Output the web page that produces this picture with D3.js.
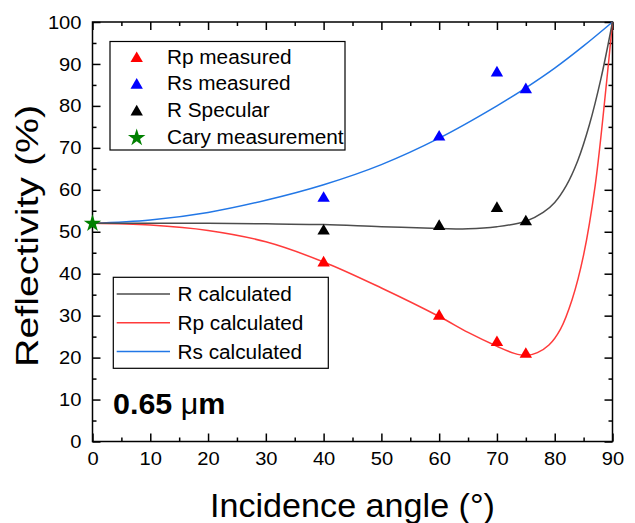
<!DOCTYPE html>
<html><head><meta charset="utf-8">
<script src="https://cdn.jsdelivr.net/npm/d3@7"></script>
<style>
html,body{margin:0;padding:0;background:#fff;}
svg text{font-family:Arial,"Liberation Sans",sans-serif;fill:#000;}
</style></head>
<body><svg id="c" width="635" height="523"></svg>
<script>
// ---- data ----
const measuredAngles = [40, 60, 70, 75];
const rpMeasured = [43.0, 30.3, 24.0, 21.2];
const rsMeasured = [58.4, 73.0, 88.3, 84.3];
const rSpecular = [50.6, 51.7, 56.0, 52.8];
const caryAngle = [0];
const caryValue = [52.2];

const rCalcAngles = [0, 10, 20, 30, 40, 50, 60, 65, 70, 75, 78, 80, 82, 84, 86, 88, 90];
const rCalc = [52.0, 52.0, 52.0, 51.9, 51.7, 51.2, 50.8, 50.7, 51.2, 52.5, 54.6, 57.0, 61.0, 67.0, 75.5, 86.5, 100];

const rpCalcAngles = [0, 10, 20, 30, 40, 50, 60, 65, 70, 73, 75, 77, 79, 81, 83, 85, 87, 89, 90];
const rpCalc = [52.0, 51.6, 50.3, 47.6, 42.8, 36.6, 29.8, 26.0, 22.7, 21.0, 20.5, 21.2, 23.0, 26.8, 33.8, 44.5, 61.0, 86.0, 100];

const rsCalcAngles = [0, 10, 20, 30, 40, 50, 60, 70, 75, 80, 85, 90];
const rsCalc = [52.0, 52.8, 54.6, 57.5, 61.2, 66.0, 72.3, 80.0, 84.3, 89.0, 94.3, 100];

const xMajor = [0, 10, 20, 30, 40, 50, 60, 70, 80, 90];
const xMinor = [5, 15, 25, 35, 45, 55, 65, 75, 85];
const yMajor = [0, 10, 20, 30, 40, 50, 60, 70, 80, 90, 100];
const yMinor = [5, 15, 25, 35, 45, 55, 65, 75, 85, 95];

// ---- drawing ----
const svg = d3.select("#c");
const x = d3.scaleLinear().domain([0, 90]).range([92.5, 612.5]);
const y = d3.scaleLinear().domain([0, 100]).range([441.5, 22]);

function stretch(sel, k) {
  sel.each(function () {
    const w = this.getComputedTextLength();
    d3.select(this).attr("textLength", w * k).attr("lengthAdjust", "spacingAndGlyphs");
  });
}

// axes
function addAxis(axis, tr) {
  const g = svg.append("g").attr("transform", tr).call(axis);
  g.select(".domain").remove();
  g.selectAll(".tick line").attr("stroke", "#000").attr("stroke-width", 1.5);
  return g;
}
const fs = 19;
addAxis(d3.axisBottom(x).tickValues(xMajor).tickSize(-8).tickPadding(10).tickFormat(d3.format("d")), `translate(0,${y(0)})`);
addAxis(d3.axisBottom(x).tickValues(xMinor).tickSize(-4).tickFormat(""), `translate(0,${y(0)})`);
addAxis(d3.axisTop(x).tickValues(xMajor).tickSize(-8).tickFormat(""), `translate(0,${y(100)})`);
addAxis(d3.axisTop(x).tickValues(xMinor).tickSize(-4).tickFormat(""), `translate(0,${y(100)})`);
addAxis(d3.axisLeft(y).tickValues(yMajor).tickSize(-8).tickPadding(11).tickFormat(d3.format("d")), `translate(${x(0)},0)`);
addAxis(d3.axisLeft(y).tickValues(yMinor).tickSize(-4).tickFormat(""), `translate(${x(0)},0)`);
addAxis(d3.axisRight(y).tickValues(yMajor).tickSize(-8).tickFormat(""), `translate(${x(90)},0)`);
addAxis(d3.axisRight(y).tickValues(yMinor).tickSize(-4).tickFormat(""), `translate(${x(90)},0)`);
const tickTexts = svg.selectAll(".tick text").filter(function () { return this.textContent !== ""; })
  .attr("font-size", fs).attr("font-family", "Arial, 'Liberation Sans', sans-serif").attr("fill", "#000");
stretch(tickTexts, 1.06);

// frame
svg.append("rect").attr("x", x(0)).attr("y", y(100)).attr("width", x(90) - x(0)).attr("height", y(0) - y(100))
  .attr("fill", "none").attr("stroke", "#000").attr("stroke-width", 1.5);

// curves
const line = d3.line().x(d => x(d[0])).y(d => y(d[1])).curve(d3.curveCatmullRom.alpha(0.5));
function curve(ax, vals, color) {
  svg.append("path").datum(ax.map((a, i) => [a, vals[i]])).attr("d", line)
    .attr("fill", "none").attr("stroke", color).attr("stroke-width", 1.5);
}
const cR = "#4d4d4d", cRp = "#ff3b3b", cRs = "#2277e6";
curve(rsCalcAngles, rsCalc, cRs);
curve(rpCalcAngles, rpCalc, cRp);
curve(rCalcAngles, rCalc, cR);

// markers
const tri = {draw(ctx, size) { const w = 6.2, h = 10.6; ctx.moveTo(0, -h / 2); ctx.lineTo(w, h / 2); ctx.lineTo(-w, h / 2); ctx.closePath(); }};
const triPath = d3.symbol().type(tri).size(1)();
const starPath = d3.symbol().type(d3.symbolStar).size(95)();
function markers(ax, vals, color) {
  svg.append("g").selectAll("path").data(ax.map((a, i) => [a, vals[i]])).join("path")
    .attr("d", triPath).attr("transform", d => `translate(${x(d[0])},${y(d[1])})`).attr("fill", color);
}
markers(measuredAngles, rsMeasured, "#0000ff");
markers(measuredAngles, rSpecular, "#000000");
markers(measuredAngles, rpMeasured, "#ff0000");
svg.append("g").selectAll("path").data(caryAngle.map((a, i) => [a, caryValue[i]])).join("path")
  .attr("d", starPath).attr("transform", d => `translate(${x(d[0])},${y(d[1]) + 1})`).attr("fill", "#008000");

// legend 1
const lg1 = svg.append("g");
lg1.append("rect").attr("x", 110).attr("y", 41.5).attr("width", 235).attr("height", 108.5)
  .attr("fill", "#fff").attr("stroke", "#000").attr("stroke-width", 1.2);
const leg1 = [["Rp measured", "#ff0000", "tri"], ["Rs measured", "#0000ff", "tri"], ["R Specular", "#000000", "tri"], ["Cary measurement", "#008000", "star"]];
leg1.forEach((d, i) => {
  const yy = 56.7 + i * 26.7;
  lg1.append("path").attr("d", d[2] === "tri" ? triPath : starPath)
    .attr("transform", `translate(136.7,${yy + (d[2] === "star" ? 1 : 0)})`).attr("fill", d[1]);
  lg1.append("text").attr("class", "lt").attr("x", 167).attr("y", yy).attr("dy", "0.36em").attr("font-size", 19.5).text(d[0]);
});

// legend 2
const lg2 = svg.append("g");
lg2.append("rect").attr("x", 113.3).attr("y", 277.3).attr("width", 215).attr("height", 91)
  .attr("fill", "#fff").attr("stroke", "#000").attr("stroke-width", 1.2);
const leg2 = [["R calculated", cR], ["Rp calculated", cRp], ["Rs calculated", cRs]];
leg2.forEach((d, i) => {
  const yy = 294 + i * 28.8;
  lg2.append("line").attr("x1", 116.7).attr("x2", 170).attr("y1", yy).attr("y2", yy).attr("stroke", d[1]).attr("stroke-width", 1.5);
  lg2.append("text").attr("class", "lt").attr("x", 177.5).attr("y", yy).attr("dy", "0.36em").attr("font-size", 19.5).text(d[0]);
});
stretch(svg.selectAll(".lt"), 1.065);

// annotation
const ann = svg.append("text").attr("x", 113).attr("y", 414).attr("font-size", 29).attr("font-weight", "bold");
ann.append("tspan").text("0.65 ");
ann.append("tspan").attr("font-weight", "normal").text("μ");
ann.append("tspan").text("m");
stretch(ann, 1.05);

// axis titles
svg.append("text").attr("x", 352.5).attr("y", 516.5).attr("text-anchor", "middle").attr("font-size", 33)
  .attr("textLength", 285).attr("lengthAdjust", "spacingAndGlyphs").text("Incidence angle (°)");
svg.append("text").attr("transform", "translate(37.5,236) rotate(-90)").attr("text-anchor", "middle").attr("font-size", 30.5)
  .attr("textLength", 262).attr("lengthAdjust", "spacingAndGlyphs").text("Reflectivity (%)");
</script></body></html>
